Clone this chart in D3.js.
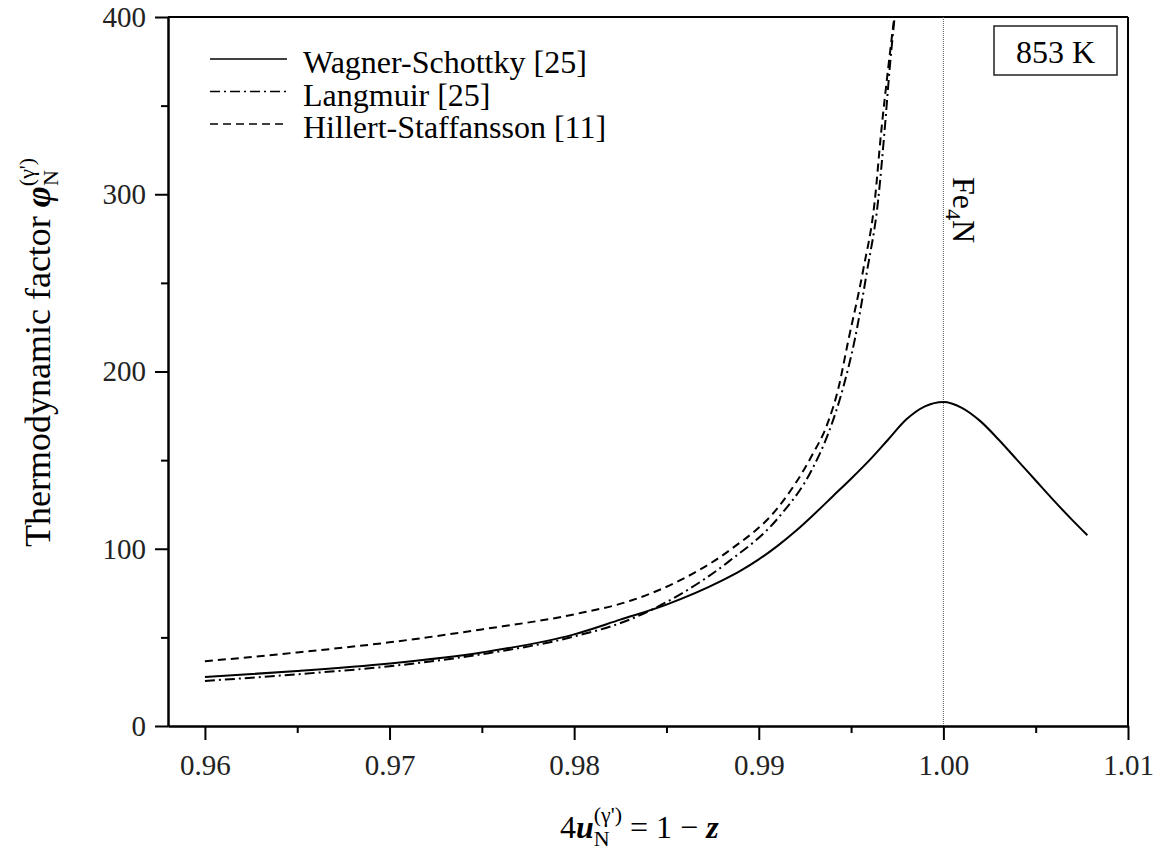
<!DOCTYPE html>
<html>
<head>
<meta charset="utf-8">
<script src="https://cdn.jsdelivr.net/npm/d3@7"></script>
<style>
  body { margin: 0; background: #fff; }
  svg text { font-family: "Liberation Serif", "Times New Roman", serif; }
</style>
</head>
<body>
<div id="chart"></div>
<script>
// values (853 K)
const xTicks = [0.96, 0.97, 0.98, 0.99, 1.00, 1.01];
const xMinor = [0.965, 0.975, 0.985, 0.995, 1.005];
const yTicks = [0, 100, 200, 300, 400];
const yMinor = [50, 150, 250, 350];

// Wagner-Schottky [25]
const wsX = [0.960, 0.965, 0.970, 0.975, 0.980, 0.9825, 0.985, 0.988, 0.989, 0.990, 0.991, 0.992, 0.993, 0.994, 0.995, 0.996, 0.997, 0.998, 0.999, 1.000, 1.001, 1.002, 1.003, 1.004, 1.005, 1.006, 1.007, 1.0078];
const wsY = [27.6, 31, 35.3, 41.5, 51.7, 60, 68.5, 82, 87.5, 94, 101.5, 110, 119.5, 129.5, 139.5, 150, 161.5, 173, 180.3, 182.8, 179.5, 172, 161.5, 150, 138.5, 127, 116, 107.6];

// Langmuir [25]
const lmX = [0.960, 0.965, 0.970, 0.975, 0.980, 0.983, 0.9857, 0.9884, 0.9911, 0.9929, 0.9938, 0.9946, 0.9952, 0.99587, 0.99646, 0.99680, 0.99710, 0.99736];
const lmY = [25.4, 29.2, 33.7, 40.5, 50.5, 60, 74, 93, 118, 145, 166, 192, 218, 257, 296, 334, 372, 400];

// Hillert-Staffansson [11]
const hsX = [0.960, 0.965, 0.970, 0.975, 0.980, 0.983, 0.9857, 0.9884, 0.9911, 0.9929, 0.9937, 0.9943, 0.99484, 0.99565, 0.99628, 0.99662, 0.99702, 0.99734];
const hsY = [36.5, 41.5, 47.2, 54.5, 63, 70.5, 82, 99, 124, 153, 170, 190, 217, 257, 296, 334, 372, 400];

const legendNames = ["Wagner-Schottky [25]", "Langmuir [25]", "Hillert-Staffansson [11]"];
const dashes = [null, "10,4,2,4", "8,5"];

const width = 1156, height = 854;
const pLeft = 168, pRight = 1128, pTop = 17, pBottom = 726;
const serif = "'Liberation Serif', 'Times New Roman', serif";

const svg = d3.select("#chart")
  .append("svg")
  .attr("width", width)
  .attr("height", height)
  .style("font-family", serif);

const x = d3.scaleLinear().domain([0.958, 1.01]).range([pLeft, pRight]);
const y = d3.scaleLinear().domain([0, 400]).range([pBottom, pTop]);

// frame top / right
svg.append("line").attr("x1", pLeft).attr("x2", pRight).attr("y1", pTop).attr("y2", pTop)
  .attr("stroke", "#000").attr("stroke-width", 2);
svg.append("line").attr("x1", pRight).attr("x2", pRight).attr("y1", pTop).attr("y2", pBottom)
  .attr("stroke", "#000").attr("stroke-width", 2);

// Fe4N marker
svg.append("line")
  .attr("x1", x(1.0)).attr("x2", x(1.0))
  .attr("y1", pTop).attr("y2", pBottom)
  .attr("stroke", "#555").attr("stroke-width", 1)
  .attr("stroke-dasharray", "1,1");

// minor ticks
const xAxisMinor = svg.append("g")
  .attr("transform", `translate(0,${pBottom})`)
  .call(d3.axisBottom(x).tickValues(xMinor).tickSize(7).tickSizeOuter(0).tickFormat(""));
const yAxisMinor = svg.append("g")
  .attr("transform", `translate(${pLeft},0)`)
  .call(d3.axisLeft(y).tickValues(yMinor).tickSize(7).tickSizeOuter(0).tickFormat(""));

// major axes
const xAxis = svg.append("g")
  .attr("transform", `translate(0,${pBottom})`)
  .call(d3.axisBottom(x).tickValues(xTicks).tickSize(14).tickSizeOuter(0).tickPadding(14).tickFormat(d3.format(".2f")));
const yAxis = svg.append("g")
  .attr("transform", `translate(${pLeft},0)`)
  .call(d3.axisLeft(y).tickValues(yTicks).tickSize(13).tickSizeOuter(0).tickPadding(9));

[xAxisMinor, yAxisMinor, xAxis, yAxis].forEach(g => {
  g.attr("font-family", null).style("font-family", serif);
  g.selectAll("line").attr("stroke", "#000").attr("stroke-width", 2);
  g.select(".domain").attr("stroke", "#000").attr("stroke-width", 2);
});
[xAxis, yAxis].forEach(g => {
  g.selectAll("text")
    .attr("fill", "#222")
    .style("font-size", "29px")
    .style("font-family", serif);
});

// curves
const line = d3.line().x(d => x(d[0])).y(d => y(d[1])).curve(d3.curveMonotoneX);
const series = [d3.zip(wsX, wsY), d3.zip(lmX, lmY), d3.zip(hsX, hsY)];

svg.append("g")
  .selectAll("path")
  .data(series)
  .join("path")
  .attr("d", line)
  .attr("fill", "none")
  .attr("stroke", "#000")
  .attr("stroke-width", 2)
  .attr("stroke-dasharray", (d, i) => dashes[i]);

// legend
const legend = svg.append("g");
legendNames.forEach((name, i) => {
  const by = 73 + i * 32.5;
  legend.append("line")
    .attr("x1", 210).attr("x2", 287)
    .attr("y1", by - 14).attr("y2", by - 14)
    .attr("stroke", "#000").attr("stroke-width", 1.6)
    .attr("stroke-dasharray", dashes[i]);
  legend.append("text")
    .attr("x", 303).attr("y", by)
    .attr("font-size", 32)
    .text(name);
});

// temperature box
svg.append("rect")
  .attr("x", 994).attr("y", 26).attr("width", 123).attr("height", 49)
  .attr("fill", "#fff").attr("stroke", "#222").attr("stroke-width", 1.5);
svg.append("text")
  .attr("x", 1055.5).attr("y", 63)
  .attr("text-anchor", "middle")
  .attr("font-size", 32)
  .text("853 K");

// Fe4N label
const fe = svg.append("text")
  .attr("transform", "translate(953,177) rotate(90)")
  .attr("font-size", 32);
fe.append("tspan").text("Fe");
fe.append("tspan").attr("font-size", 22).attr("dy", 7).text("4");
fe.append("tspan").attr("dy", -7).text("N");

// y title
const yt = svg.append("text")
  .attr("transform", "translate(50,547) rotate(-90)")
  .attr("font-size", 36);
yt.append("tspan").text("Thermodynamic factor ");
yt.append("tspan").attr("font-weight", "bold").attr("font-style", "italic").text("φ");
yt.append("tspan").attr("font-size", 22).attr("dy", 8).text("N");
yt.append("tspan").attr("font-size", 22).attr("dx", -16).attr("dy", -24).text("(γ')");

// x title
const xt = svg.append("text")
  .attr("x", 560).attr("y", 838)
  .attr("font-size", 32);
xt.append("tspan").text("4");
xt.append("tspan").attr("font-weight", "bold").attr("font-style", "italic").text("u");
xt.append("tspan").attr("font-size", 22).attr("dy", 8).text("N");
xt.append("tspan").attr("font-size", 22).attr("dx", -16).attr("dy", -24).text("(γ')");
xt.append("tspan").attr("dy", 16).text(" = 1 − ");
xt.append("tspan").attr("font-weight", "bold").attr("font-style", "italic").text("z");
</script>
</body>
</html>
